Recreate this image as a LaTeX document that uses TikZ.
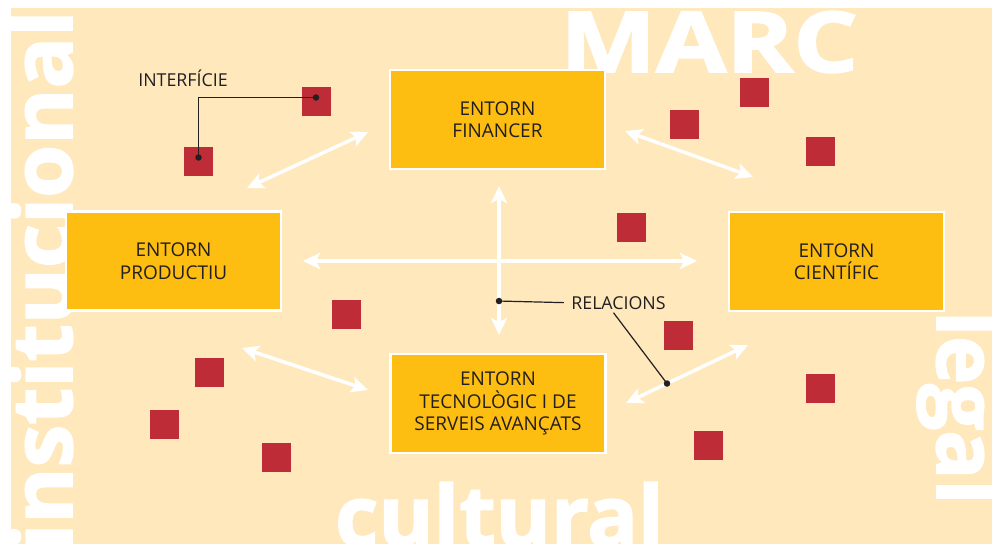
\documentclass[tikz,border=0pt]{standalone}
\usepackage{fontspec}
\setmainfont{Open Sans}
\newfontfamily\heavyfont[BoldFeatures={FakeBold=2}]{Open Sans}
\usetikzlibrary{arrows.meta}
\definecolor{fons}{RGB}{254,232,188}
\definecolor{groc}{RGB}{253,189,17}
\definecolor{vermell}{RGB}{190,45,55}
\definecolor{tinta}{RGB}{35,31,32}

\begin{document}
\begin{tikzpicture}[x=1pt,y=-1pt,>={Stealth[length=17pt,width=16pt,inset=4pt]},
  main node/.style={rectangle,fill=groc,draw=white,line width=2.5pt,minimum width=215pt,minimum height=99pt,align=center,text=tinta,font=\fontsize{19}{22.5}\selectfont},
  square node/.style={rectangle,fill=vermell,minimum size=29pt,inner sep=0pt},
  big word/.style={text=white,inner sep=0pt,font=\fontsize{84}{84}\selectfont\heavyfont\bfseries},
  label node/.style={text=tinta,font=\fontsize{17.8}{20}\selectfont},
  relacio/.style={<->,white,line width=3.5pt},
  leader/.style={tinta,line width=1.2pt},
  dot/.style={circle,fill=tinta,inner sep=0pt,minimum size=6.5pt}]

  \useasboundingbox (0,0) rectangle (992,544);
  \clip (0,0) rectangle (992,544);
  \fill[fons] (11,8) rectangle (992,544);

  % marc institucional, legal, cultural
  \node[big word,anchor=base west,xscale=1.21] (marc) at (560,72) {MARC};
  \node[big word,anchor=base west] (cultural) at (335,546) {cultural};
  \node[big word,anchor=base west,rotate=90,xscale=1.02] (institucional) at (72,550) {institucional};
  \node[big word,anchor=base west,rotate=-90,xscale=0.97] (legal) at (937,311) {legal};

  \foreach \x/\y [count=\i] in {316/101.5, 198.5/161.5, 754.5/92.5, 684.5/124.5, 820.5/151.5,
      631/227.5, 346.5/314.5, 678.5/335, 209.5/372.5, 164.5/424.5, 276.5/457.5, 820.5/388.5, 708.5/445.5}
    \node[square node] (s\i) at (\x,\y) {};

  \node[main node] (1) at (497.5,119.5) {ENTORN\\FINANCER};
  \node[main node] (2) at (173.5,261) {ENTORN\\PRODUCTIU};
  \node[main node] (3) at (836.5,261.5) {ENTORN\\CIENTÍFIC};
  \node[main node] (4) at (498,403.5) {ENTORN\\TECNOLÒGIC I DE\\SERVEIS AVANÇATS};

  \coordinate (a1) at (247,188); \coordinate (b1) at (368,132);
  \coordinate (a2) at (625,131); \coordinate (b2) at (753,177);
  \coordinate (a3) at (303,261); \coordinate (b3) at (697,261);
  \coordinate (a4) at (499,186); \coordinate (b4) at (499,335);
  \coordinate (a5) at (242,348); \coordinate (b5) at (368,390);
  \coordinate (a6) at (626,403); \coordinate (b6) at (748,345);

  \path[relacio] (a1) edge (b1)
                 (a2) edge (b2)
                 (a3) edge (b3)
                 (a5) edge (b5);
  \draw[relacio] (a4) -- (b4) coordinate[pos=0.772] (d1);
  \draw[relacio] (a6) -- (b6) coordinate[pos=0.336] (d2);

  \node[label node,anchor=base] (interficie) at (183,86) {INTERFÍCIE};
  \node[label node,anchor=base] (relacions) at (618.5,309) {RELACIONS};

  \draw[leader] ([yshift=4pt]s2.center) |- ([yshift=4pt]s1.center);
  \node[dot] (p1) at ([yshift=4pt]s2.center) {};
  \node[dot] (p2) at ([yshift=4pt]s1.center) {};

  \draw[leader] (d1) -- ([xshift=-4pt]relacions.west);
  \draw[leader] ([xshift=-5pt]relacions.south) -- (d2);
  \node[dot] (p3) at (d1) {};
  \node[dot] (p4) at (d2) {};

\end{tikzpicture}
\end{document}
